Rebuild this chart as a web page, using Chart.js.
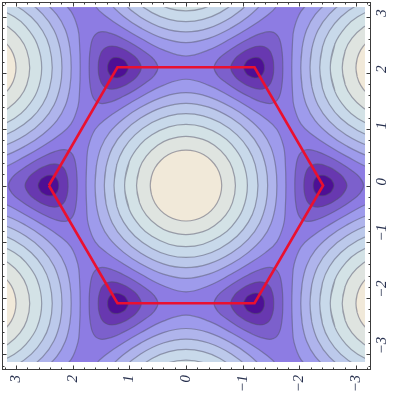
<!DOCTYPE html>
<html>
<head>
<meta charset="utf-8">
<script src="https://cdn.jsdelivr.net/npm/chart.js@4"></script>
<style>
  html, body { margin: 0; background: #fff; }
  canvas { display: block; filter: blur(0.5px); }
</style>
</head>
<body>
<canvas id="chart" width="393" height="394"></canvas>
<script>
const tickValues = [-3, -2, -1, 0, 1, 2, 3];
const xRange = [-3.263, 3.245];
const yRange = [-3.277, 3.26];
const xWindow = [-3.157, 3.157];
const yWindow = [-3.135, 3.17];

// one quadrant of each contour round a peak, outermost first
const peakArcs = [
  [[1.762, 0], [1.75, .434], [1.72, .7], [1.6, 1.0], [1.4, 1.192], [1.1, 1.395], [.8, 1.572], [.4, 1.78], [0, 1.888]],
  [[1.603, 0], [1.58, .349], [1.5, .673], [1.35, .941], [1.1, 1.187], [.8, 1.389], [.4, 1.575], [0, 1.649]],
  [[1.44, 0], [1.41, .328], [1.3, .664], [1.1, .951], [.8, 1.198], [.4, 1.392], [0, 1.46]],
  [[1.269, 0], [1.22, .37], [1.1, .65], [.9, .9], [.6, 1.118], [.3, 1.238], [0, 1.278]],
  [[1.083, 0], [1.0, .426], [.8, .734], [.6, .903], [.3, 1.043], [0, 1.087]],
  [[.872, 0], [.82, .303], [.7, .524], [.5, .716], [.3, .82], [0, .874]],
  [[.63, 0], [.608, .163], [.546, .315], [.445, .445], [.315, .546], [.163, .608], [0, .63]]
];
const peakColors = ['#9e9bec', '#afb4ec', '#bcc9eb', '#c8d9ea', '#d3e2e6', '#dfe4e0', '#f1e9d9'];
const peakCenters = [[0, 0], [3.628, 2.094], [-3.628, 2.094], [3.628, -2.094], [-3.628, -2.094], [0, 4.189], [0, -4.189]];

// upper half of each pocket contour, measured from its low point, outermost first
const pocketArcs = [
  [[.714, 0], [.65, .14], [.5, .27], [.3, .404], [.1, .514], [-.1, .603], [-.3, .636], [-.42, .548], [-.48, .33], [-.499, 0]],
  [[.421, 0], [.35, .152], [.25, .242], [.1, .331], [-.1, .384], [-.25, .324], [-.32, .177], [-.339, 0]],
  [[.192, 0], [.15, .101], [.1, .144], [0, .182], [-.1, .164], [-.16, .084], [-.175, 0]]
];
const pocketColors = ['#7c60cc', '#6838b0', '#4e0f95'];
const pocketCenters = [[2.418, 0], [-2.418, 0], [1.209, 2.094], [-1.209, 2.094], [1.209, -2.094], [-1.209, -2.094]];

const netColor = '#8d7ce3';
const hexagonX = [2.418, 1.209, -1.209, -2.418, -1.209, 1.209, 2.418];
const hexagonY = [0, 2.1, 2.1, 0, -2.09, -2.09, 0];

// repeat one point past each end so the curve has no kink where the loop closes
function wrap(pts) {
  return [pts[pts.length - 2], ...pts, pts[1]];
}

function peakLoop(arc, cx, cy) {
  const back = arc.slice().reverse();
  const pts = [
    ...arc,
    ...back.slice(1).map(([x, y]) => [-x, y]),
    ...arc.slice(1).map(([x, y]) => [-x, -y]),
    ...back.slice(1).map(([x, y]) => [x, -y])
  ];
  return wrap(pts).map(([x, y]) => ({ x: x + cx, y: y + cy }));
}

function pocketLoop(arc, cx, cy) {
  // the point of the triangle looks away from the origin on the far pockets
  const side = (cx > 0) === (Math.abs(cy) < .01) ? 1 : -1;
  const back = arc.slice().reverse();
  const pts = [...arc, ...back.slice(1).map(([x, y]) => [x, -y])];
  return wrap(pts).map(([x, y]) => ({ x: side * x + cx, y: y + cy }));
}

function contour(data, color) {
  return {
    data,
    showLine: true,
    fill: 'shape',
    backgroundColor: color,
    borderColor: 'rgba(84, 84, 108, .5)',
    borderWidth: 1.2,
    tension: .4,
    pointRadius: 0
  };
}

const layers = [{
  data: [
    { x: xWindow[0], y: yWindow[0] }, { x: xWindow[1], y: yWindow[0] },
    { x: xWindow[1], y: yWindow[1] }, { x: xWindow[0], y: yWindow[1] }
  ],
  showLine: true,
  fill: 'shape',
  backgroundColor: netColor,
  borderWidth: 0,
  pointRadius: 0
}];
peakCenters.forEach(([cx, cy]) => {
  peakArcs.forEach((arc, i) => layers.push(contour(peakLoop(arc, cx, cy), peakColors[i])));
});
pocketCenters.forEach(([cx, cy]) => {
  pocketArcs.forEach((arc, i) => layers.push(contour(pocketLoop(arc, cx, cy), pocketColors[i])));
});
layers.push({
  data: hexagonX.map((x, i) => ({ x, y: hexagonY[i] })),
  showLine: true,
  borderColor: '#ea1030',
  borderWidth: 2.6,
  pointRadius: 0,
  fill: false
});

const framePlugin = {
  id: 'frame',
  afterDatasetsDraw(chart) {
    // the picture stops a little short of the frame
    const { ctx, chartArea: a, scales: { x, y } } = chart;
    const l = x.getPixelForValue(xWindow[1]), r = x.getPixelForValue(xWindow[0]);
    const t = y.getPixelForValue(yWindow[1]), b = y.getPixelForValue(yWindow[0]);
    ctx.save();
    ctx.fillStyle = '#fff';
    ctx.fillRect(a.left - 1, a.top - 1, l - a.left + 1, a.height + 2);
    ctx.fillRect(r, a.top - 1, a.right - r + 1, a.height + 2);
    ctx.fillRect(a.left - 1, a.top - 1, a.width + 2, t - a.top + 1);
    ctx.fillRect(a.left - 1, b, a.width + 2, a.bottom - b + 1);
    ctx.restore();
  },
  afterDraw(chart) {
    const { ctx, chartArea: a, scales: { x, y } } = chart;
    ctx.save();
    ctx.strokeStyle = '#3c3c3c';
    ctx.lineWidth = 1;
    ctx.strokeRect(a.left + .5, a.top + .5, a.width - 1, a.height - 1);
    ctx.beginPath();
    for (let n = -16; n <= 16; n++) {
      const len = n % 5 === 0 ? 4.5 : 2.5;
      const px = Math.round(x.getPixelForValue(n / 5)) + .5;
      const py = Math.round(y.getPixelForValue(n / 5)) + .5;
      ctx.moveTo(px, a.top); ctx.lineTo(px, a.top + len);
      ctx.moveTo(px, a.bottom); ctx.lineTo(px, a.bottom - len);
      ctx.moveTo(a.left, py); ctx.lineTo(a.left + len, py);
      ctx.moveTo(a.right, py); ctx.lineTo(a.right - len, py);
    }
    ctx.stroke();
    ctx.restore();
  }
};

const tickStyle = {
  color: '#27304e',
  font: { family: '"Liberation Serif"', size: 15, style: 'italic' },
  minRotation: 90,
  maxRotation: 90,
  autoSkip: false,
  callback: value => String(value).replace('-', '\u2212')
};

new Chart(document.getElementById('chart'), {
  type: 'scatter',
  data: { datasets: layers.reverse() },
  options: {
    responsive: false,
    animation: false,
    events: [],
    layout: { padding: { left: 2, top: 2, right: 0, bottom: 0 } },
    plugins: { legend: { display: false }, tooltip: { enabled: false } },
    elements: { line: { capBezierPoints: false } },
    scales: {
      x: {
        type: 'linear',
        reverse: true,
        min: xRange[0],
        max: xRange[1],
        grid: { display: false, drawTicks: false },
        border: { display: false },
        ticks: { ...tickStyle, padding: 5 },
        afterBuildTicks: scale => { scale.ticks = tickValues.map(value => ({ value })); },
        afterFit: scale => {
          scale.height = 24;
          scale.paddingLeft = 0;
          scale.paddingRight = 0;
        }
      },
      y: {
        type: 'linear',
        position: 'right',
        min: yRange[0],
        max: yRange[1],
        grid: { display: false, drawTicks: false },
        border: { display: false },
        ticks: { ...tickStyle, padding: 11 },
        afterBuildTicks: scale => { scale.ticks = tickValues.map(value => ({ value })); },
        afterFit: scale => {
          scale.width = 22;
          scale.paddingTop = 0;
          scale.paddingBottom = 0;
        }
      }
    }
  },
  plugins: [framePlugin]
});
</script>
</body>
</html>
